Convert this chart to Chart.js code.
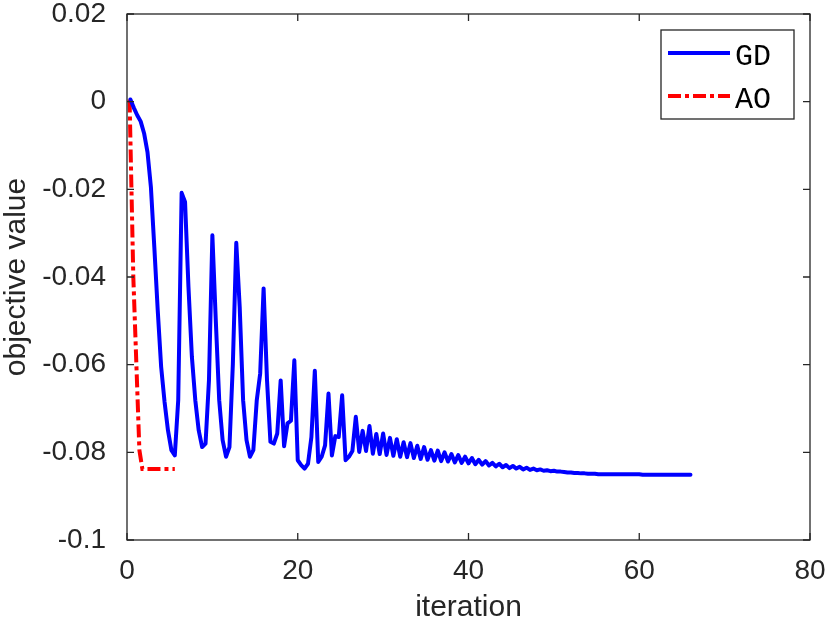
<!DOCTYPE html>
<html>
<head>
<meta charset="utf-8">
<script src="https://cdn.jsdelivr.net/npm/chart.js@4.4.0/dist/chart.umd.min.js"></script>
<style>
  html, body { margin: 0; padding: 0; background: #fff; }
  #wrap { width: 830px; height: 623px; }
</style>
</head>
<body>
<div id="wrap"><canvas id="objChart"></canvas></div>
<script>
// GD run: objective value per (scaled) iteration
const gdIter = [
  0.4, 0.8, 1.2, 1.6, 2, 2.4, 2.8, 3.2, 3.6, 4,
  4.4, 4.8, 5.2, 5.6, 6, 6.4, 6.8, 7.2, 7.6, 8,
  8.4, 8.8, 9.2, 9.6, 10, 10.4, 10.8, 11.2, 11.6, 12,
  12.4, 12.8, 13.2, 13.6, 14, 14.4, 14.8, 15.2, 15.6, 16,
  16.4, 16.8, 17.2, 17.6, 18, 18.4, 18.8, 19.2, 19.6, 20,
  20.4, 20.8, 21.2, 21.6, 22, 22.4, 22.8, 23.2, 23.6, 24,
  24.4, 24.8, 25.2, 25.6, 26, 26.4, 26.8, 27.2, 27.6, 28,
  28.4, 28.8, 29.2, 29.6, 30, 30.4, 30.8, 31.2, 31.6, 32,
  32.4, 32.8, 33.2, 33.6, 34, 34.4, 34.8, 35.2, 35.6, 36,
  36.4, 36.8, 37.2, 37.6, 38, 38.4, 38.8, 39.2, 39.6, 40,
  40.4, 40.8, 41.2, 41.6, 42, 42.4, 42.8, 43.2, 43.6, 44,
  44.4, 44.8, 45.2, 45.6, 46, 46.4, 46.8, 47.2, 47.6, 48,
  48.4, 48.8, 49.2, 49.6, 50, 50.4, 50.8, 51.2, 51.6, 52,
  52.4, 52.8, 53.2, 53.6, 54, 54.4, 54.8, 55.2, 55.6, 56,
  56.4, 56.8, 57.2, 57.6, 58, 58.4, 58.8, 59.2, 59.6, 60,
  60.4, 60.8, 61.2, 61.6, 62, 62.4, 62.8, 63.2, 63.6, 64,
  64.4, 64.8, 65.2, 65.6, 66
];
const gdObj = [
  0.0005, -0.0014, -0.0031, -0.0045, -0.0072, -0.0115, -0.0195, -0.0332, -0.0476, -0.0605,
  -0.0685, -0.0750, -0.0795, -0.0807, -0.0681, -0.0208, -0.0229, -0.0423, -0.0582, -0.0681,
  -0.0750, -0.0788, -0.0780, -0.0636, -0.0305, -0.0499, -0.0681, -0.0772, -0.0810, -0.0788,
  -0.0598, -0.0322, -0.0468, -0.0681, -0.0772, -0.0810, -0.0795, -0.0681, -0.0620, -0.0426,
  -0.0636, -0.0776, -0.0780, -0.0757, -0.0636, -0.0786, -0.0734, -0.0728, -0.0590, -0.0818,
  -0.0829, -0.0837, -0.0826, -0.0765, -0.0614, -0.0822, -0.0810, -0.0784, -0.0666, -0.0807,
  -0.0763, -0.0765, -0.0670, -0.0818, -0.0810, -0.0797, -0.0719, -0.0799, -0.0751, -0.0797,
  -0.0740, -0.0803, -0.0758, -0.0804, -0.0757, -0.0806, -0.0767, -0.0808, -0.0770, -0.0810,
  -0.0777, -0.0811, -0.0779, -0.0813, -0.0785, -0.0815, -0.0788, -0.0817, -0.0795, -0.0819,
  -0.0796, -0.0820, -0.0800, -0.0821, -0.0804, -0.0823, -0.0806, -0.0824, -0.0810, -0.0825,
  -0.0813, -0.0827, -0.0817, -0.0828, -0.0820, -0.0830, -0.0824, -0.0832, -0.0826, -0.0834,
  -0.0829, -0.0836, -0.0831, -0.0837, -0.0833, -0.0839, -0.0835, -0.0840, -0.0837, -0.0841,
  -0.0839, -0.0842, -0.0841, -0.0843, -0.0842, -0.0844, -0.0844, -0.0845, -0.0846, -0.0846,
  -0.0847, -0.0847, -0.0848, -0.0848, -0.0849, -0.0849, -0.0849, -0.0850, -0.0850, -0.0850,
  -0.0850, -0.0850, -0.0850, -0.0850, -0.0850, -0.0850, -0.0850, -0.0850, -0.0850, -0.0850,
  -0.0851, -0.0851, -0.0851, -0.0851, -0.0851, -0.0851, -0.0851, -0.0851, -0.0851, -0.0851,
  -0.0851, -0.0851, -0.0851, -0.0851, -0.0851
];

// AO run
const aoIter = [0.3, 0.74, 1.45, 1.8, 5.6];
const aoObj = [0.0005, -0.040, -0.0795, -0.0838, -0.0838];

const xTicks = [0, 20, 40, 60, 80];
const yTicks = [-0.1, -0.08, -0.06, -0.04, -0.02, 0, 0.02];

const axisColor = "#262626";
const sans = "'Liberation Sans', Arial, Helvetica, sans-serif";
const mono = "'Liberation Mono', 'Courier New', monospace";

const toPoints = (xs, ys) => xs.map((x, i) => ({ x, y: ys[i] }));

// keep tick labels from pushing the plot box inward
const noEdgePadding = s => {
  s.paddingTop = 0; s.paddingBottom = 0;
  s.paddingLeft = 0; s.paddingRight = 0;
};

// MATLAB-like box, inward ticks and boxed legend
const matlabAxes = {
  id: "matlabAxes",
  afterDatasetsDraw(chart) {
    const { ctx, chartArea: a, scales: { x, y } } = chart;
    ctx.save();
    ctx.strokeStyle = axisColor;
    ctx.lineWidth = 1.3;
    ctx.strokeRect(a.left, a.top, a.right - a.left, a.bottom - a.top);

    const tl = 7;
    ctx.beginPath();
    x.ticks.forEach(t => {
      const px = x.getPixelForValue(t.value);
      ctx.moveTo(px, a.bottom); ctx.lineTo(px, a.bottom - tl);
      ctx.moveTo(px, a.top); ctx.lineTo(px, a.top + tl);
    });
    y.ticks.forEach(t => {
      const py = y.getPixelForValue(t.value);
      ctx.moveTo(a.left, py); ctx.lineTo(a.left + tl, py);
      ctx.moveTo(a.right, py); ctx.lineTo(a.right - tl, py);
    });
    ctx.stroke();

    // legend
    const bx = a.right - 149, by = a.top + 16, bw = 133, bh = 89;
    ctx.fillStyle = "#fff";
    ctx.fillRect(bx, by, bw, bh);
    ctx.strokeRect(bx, by, bw, bh);
    ctx.font = "30px " + mono;
    ctx.textBaseline = "alphabetic";
    ctx.textAlign = "left";
    chart.data.datasets.forEach((ds, i) => {
      const ly = by + 23 + i * 43;
      ctx.save();
      ctx.strokeStyle = ds.borderColor;
      ctx.lineWidth = ds.borderWidth;
      ctx.lineCap = "butt";
      ctx.setLineDash(ds.borderDash || []);
      ctx.beginPath();
      ctx.moveTo(bx + 7, ly);
      ctx.lineTo(bx + 69, ly);
      ctx.stroke();
      ctx.restore();
      ctx.fillStyle = "#000";
      ctx.fillText(ds.label, bx + 74, ly + 12);
    });
    ctx.restore();
  }
};

new Chart(document.getElementById("objChart"), {
  type: "line",
  data: {
    datasets: [
      {
        label: "GD",
        data: toPoints(gdIter, gdObj),
        borderColor: "#0000ff",
        borderWidth: 4,
        borderJoinStyle: "round",
        borderCapStyle: "round",
        pointRadius: 0,
        tension: 0
      },
      {
        label: "AO",
        data: toPoints(aoIter, aoObj),
        borderColor: "#ff0000",
        borderWidth: 4,
        borderDash: [13, 4, 4, 4],
        borderCapStyle: "butt",
        pointRadius: 0,
        tension: 0
      }
    ]
  },
  options: {
    responsive: true,
    maintainAspectRatio: false,
    animation: false,
    layout: { padding: { top: 14, right: 20, left: 0, bottom: 0 } },
    plugins: {
      legend: { display: false },
      tooltip: { enabled: false }
    },
    scales: {
      x: {
        type: "linear",
        min: 0,
        max: 80,
        grid: { display: false, drawTicks: false },
        border: { display: false },
        afterBuildTicks: s => { s.ticks = xTicks.map(v => ({ value: v })); },
        afterFit: s => { s.height = 83; noEdgePadding(s); },
        ticks: {
          color: axisColor,
          font: { family: sans, size: 28, lineHeight: 1 },
          padding: 17,
          maxRotation: 0
        },
        title: {
          display: true,
          text: "iteration",
          color: axisColor,
          font: { family: sans, size: 30, lineHeight: 1 },
          padding: { top: 0, bottom: 0 }
        }
      },
      y: {
        type: "linear",
        min: -0.1,
        max: 0.02,
        grid: { display: false, drawTicks: false },
        border: { display: false },
        afterBuildTicks: s => { s.ticks = yTicks.map(v => ({ value: v })); },
        afterFit: s => { s.width = 127; noEdgePadding(s); },
        ticks: {
          color: axisColor,
          font: { family: sans, size: 28, lineHeight: 1 },
          padding: 21,
          callback: v => String(+v.toFixed(2))
        },
        title: {
          display: true,
          text: "objective value",
          color: axisColor,
          font: { family: sans, size: 30, lineHeight: 1 },
          padding: { top: 2, bottom: 0 }
        }
      }
    }
  },
  plugins: [matlabAxes]
});
</script>
</body>
</html>
